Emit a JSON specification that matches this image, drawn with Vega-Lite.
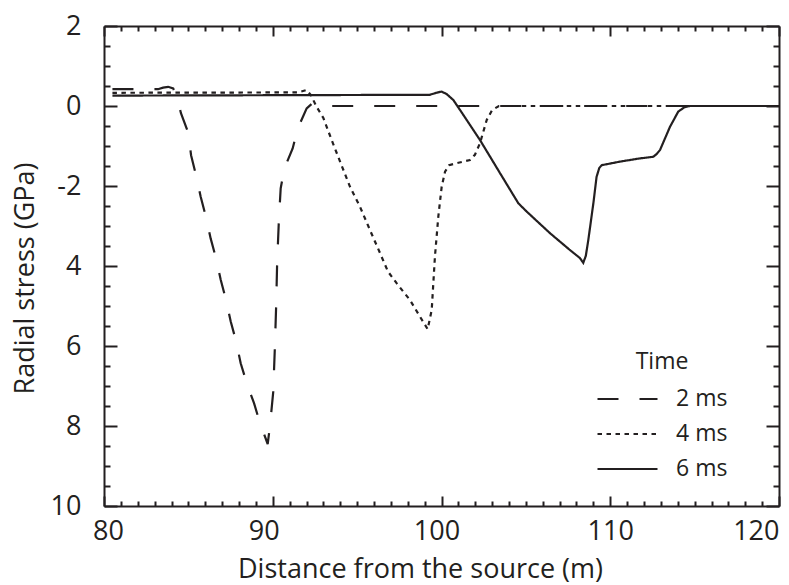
{
  "$schema": "https://vega.github.io/schema/vega-lite/v6.json",
  "width": 675,
  "height": 480,
  "autosize": {"type": "none"},
  "padding": {"left": 104, "top": 26, "right": 10, "bottom": 79},
  "background": "white",
  "config": {
    "view": {"stroke": null},
    "font": "Open Sans",
    "axis": {
      "grid": false,
      "domainWidth": 2,
      "domainColor": "#231f20",
      "tickColor": "#231f20",
      "tickWidth": 2,
      "labelColor": "#231f20",
      "titleColor": "#231f20",
      "labelFont": "Open Sans",
      "titleFont": "Open Sans",
      "labelFontSize": 27,
      "titleFontSize": 27,
      "titleFontWeight": "normal",
      "labelOverlap": false,
      "labelFlush": false
    }
  },
  "data": {
    "values": [
      {"t": "2 ms", "x": 80.5, "y": 0.42},
      {"t": "2 ms", "x": 83.2, "y": 0.42},
      {"t": "2 ms", "x": 83.5, "y": 0.46},
      {"t": "2 ms", "x": 83.8, "y": 0.48},
      {"t": "2 ms", "x": 84.1, "y": 0.44},
      {"t": "2 ms", "x": 84.35, "y": 0.2},
      {"t": "2 ms", "x": 84.56, "y": -0.18},
      {"t": "2 ms", "x": 85.0, "y": -0.68},
      {"t": "2 ms", "x": 85.16, "y": -1.23},
      {"t": "2 ms", "x": 85.45, "y": -1.73},
      {"t": "2 ms", "x": 85.73, "y": -2.27},
      {"t": "2 ms", "x": 86.04, "y": -2.77},
      {"t": "2 ms", "x": 86.32, "y": -3.31},
      {"t": "2 ms", "x": 86.64, "y": -3.81},
      {"t": "2 ms", "x": 86.92, "y": -4.35},
      {"t": "2 ms", "x": 87.23, "y": -4.85},
      {"t": "2 ms", "x": 87.51, "y": -5.39},
      {"t": "2 ms", "x": 87.82, "y": -5.87},
      {"t": "2 ms", "x": 88.1, "y": -6.43},
      {"t": "2 ms", "x": 88.46, "y": -6.93},
      {"t": "2 ms", "x": 88.89, "y": -7.43},
      {"t": "2 ms", "x": 89.24, "y": -7.92},
      {"t": "2 ms", "x": 89.7, "y": -8.45},
      {"t": "2 ms", "x": 89.84, "y": -7.98},
      {"t": "2 ms", "x": 90.03, "y": -7.14},
      {"t": "2 ms", "x": 90.12, "y": -6.1},
      {"t": "2 ms", "x": 90.2, "y": -5.02},
      {"t": "2 ms", "x": 90.26, "y": -3.93},
      {"t": "2 ms", "x": 90.36, "y": -2.89},
      {"t": "2 ms", "x": 90.47, "y": -2.06},
      {"t": "2 ms", "x": 90.69, "y": -1.56},
      {"t": "2 ms", "x": 91.18, "y": -1.06},
      {"t": "2 ms", "x": 91.48, "y": -0.56},
      {"t": "2 ms", "x": 92.01, "y": -0.06},
      {"t": "2 ms", "x": 92.3, "y": 0.05},
      {"t": "2 ms", "x": 92.6, "y": 0.02},
      {"t": "2 ms", "x": 93.0, "y": 0},
      {"t": "2 ms", "x": 120, "y": 0},
      {"t": "4 ms", "x": 80.5, "y": 0.33},
      {"t": "4 ms", "x": 91.5, "y": 0.34},
      {"t": "4 ms", "x": 92.0, "y": 0.4},
      {"t": "4 ms", "x": 92.25, "y": 0.28},
      {"t": "4 ms", "x": 92.6, "y": -0.02},
      {"t": "4 ms", "x": 93.0, "y": -0.3},
      {"t": "4 ms", "x": 93.49, "y": -0.85},
      {"t": "4 ms", "x": 93.99, "y": -1.39},
      {"t": "4 ms", "x": 94.58, "y": -2.02},
      {"t": "4 ms", "x": 95.17, "y": -2.52},
      {"t": "4 ms", "x": 95.76, "y": -3.1},
      {"t": "4 ms", "x": 96.36, "y": -3.68},
      {"t": "4 ms", "x": 96.83, "y": -4.14},
      {"t": "4 ms", "x": 97.34, "y": -4.43},
      {"t": "4 ms", "x": 98.13, "y": -4.85},
      {"t": "4 ms", "x": 98.73, "y": -5.27},
      {"t": "4 ms", "x": 99.18, "y": -5.58},
      {"t": "4 ms", "x": 99.42, "y": -5.1},
      {"t": "4 ms", "x": 99.61, "y": -3.77},
      {"t": "4 ms", "x": 99.81, "y": -2.77},
      {"t": "4 ms", "x": 100.01, "y": -2.02},
      {"t": "4 ms", "x": 100.21, "y": -1.64},
      {"t": "4 ms", "x": 100.45, "y": -1.48},
      {"t": "4 ms", "x": 101.0, "y": -1.42},
      {"t": "4 ms", "x": 101.69, "y": -1.35},
      {"t": "4 ms", "x": 101.98, "y": -1.22},
      {"t": "4 ms", "x": 102.28, "y": -0.93},
      {"t": "4 ms", "x": 102.68, "y": -0.35},
      {"t": "4 ms", "x": 103.0, "y": -0.1},
      {"t": "4 ms", "x": 103.4, "y": 0},
      {"t": "4 ms", "x": 120, "y": 0},
      {"t": "6 ms", "x": 80.5, "y": 0.26},
      {"t": "6 ms", "x": 90.0, "y": 0.27},
      {"t": "6 ms", "x": 99.3, "y": 0.28},
      {"t": "6 ms", "x": 99.7, "y": 0.33},
      {"t": "6 ms", "x": 100.0, "y": 0.36},
      {"t": "6 ms", "x": 100.3, "y": 0.3},
      {"t": "6 ms", "x": 100.7, "y": 0.15},
      {"t": "6 ms", "x": 101.1, "y": -0.1},
      {"t": "6 ms", "x": 102.28, "y": -0.85},
      {"t": "6 ms", "x": 103.47, "y": -1.68},
      {"t": "6 ms", "x": 104.55, "y": -2.43},
      {"t": "6 ms", "x": 105.05, "y": -2.64},
      {"t": "6 ms", "x": 106.43, "y": -3.18},
      {"t": "6 ms", "x": 107.61, "y": -3.6},
      {"t": "6 ms", "x": 108.2, "y": -3.8},
      {"t": "6 ms", "x": 108.4, "y": -3.92},
      {"t": "6 ms", "x": 108.55, "y": -3.75},
      {"t": "6 ms", "x": 108.7, "y": -3.35},
      {"t": "6 ms", "x": 109.0, "y": -2.43},
      {"t": "6 ms", "x": 109.19, "y": -1.77},
      {"t": "6 ms", "x": 109.35, "y": -1.55},
      {"t": "6 ms", "x": 109.49, "y": -1.48},
      {"t": "6 ms", "x": 110.58, "y": -1.39},
      {"t": "6 ms", "x": 111.76, "y": -1.31},
      {"t": "6 ms", "x": 112.55, "y": -1.27},
      {"t": "6 ms", "x": 112.75, "y": -1.2},
      {"t": "6 ms", "x": 112.95, "y": -1.1},
      {"t": "6 ms", "x": 113.54, "y": -0.52},
      {"t": "6 ms", "x": 114.03, "y": -0.14},
      {"t": "6 ms", "x": 114.4, "y": -0.03},
      {"t": "6 ms", "x": 114.73, "y": 0},
      {"t": "6 ms", "x": 120, "y": 0}
    ]
  },
  "layer": [
    {
      "mark": {"type": "line", "color": "#231f20", "strokeWidth": 2.2},
      "encoding": {
        "x": {
          "field": "x",
          "type": "quantitative",
          "scale": {"domain": [80, 120], "nice": false, "zero": false},
          "axis": {
            "orient": "bottom",
            "values": [80,81,82,83,84,85,86,87,88,89,90,91,92,93,94,95,96,97,98,99,100,101,102,103,104,105,106,107,108,109,110,111,112,113,114,115,116,117,118,119,120],
            "labelExpr": "datum.value % 10 === 0 ? '' + datum.value : ''",
            "tickSize": {"condition": {"test": "datum.value % 10 === 0", "value": -10}, "value": -5},
            "labelAlign": {"condition": {"test": "datum.value === 120", "value": "right"}, "value": "center"},
            "labelOffset": {"condition": [{"test": "datum.value === 80", "value": 4}, {"test": "datum.value === 90", "value": -9}, {"test": "datum.value === 100", "value": -5}], "value": 0},
            "labelPadding": 22,
            "title": "Distance from the source (m)",
            "titleX": 316,
            "titleY": 71,
            "titleAlign": "center",
            "titleBaseline": "alphabetic"
          }
        },
        "y": {
          "field": "y",
          "type": "quantitative",
          "scale": {"domain": [-10, 2], "nice": false, "zero": false},
          "axis": {
            "orient": "left",
            "values": [-10,-9.5,-9,-8.5,-8,-7.5,-7,-6.5,-6,-5.5,-5,-4.5,-4,-3.5,-3,-2.5,-2,-1.5,-1,-0.5,0,0.5,1,1.5,2],
            "labelExpr": "datum.value % 2 !== 0 ? '' : (datum.value < -2 ? '' + (-datum.value) : '' + datum.value)",
            "tickSize": {"condition": {"test": "datum.value % 2 === 0", "value": -13}, "value": -6},
            "labelPadding": 36,
            "title": "Radial stress (GPa)",
            "titleAngle": -90,
            "titleX": -71,
            "titleY": 252,
            "titleAlign": "center",
            "titleBaseline": "alphabetic"
          }
        },
        "strokeDash": {
          "field": "t",
          "type": "nominal",
          "scale": {"domain": ["2 ms", "4 ms", "6 ms"], "range": [[21, 21], [4.5, 4.5], [1, 0]]},
          "legend": {
            "title": "Time",
            "orient": "none",
            "legendX": 492,
            "legendY": 325,
            "padding": 0,
            "symbolType": "stroke",
            "symbolSize": 3600,
            "symbolStrokeWidth": 2.2,
            "symbolStrokeColor": "#231f20",
            "clipHeight": 22,
            "labelFont": "Open Sans",
            "labelFontSize": 23,
            "labelColor": "#231f20",
            "labelOffset": 17,
            "labelExpr": "datum.label + '   '",
            "titleFont": "Open Sans",
            "titleFontSize": 23,
            "titleFontWeight": "normal",
            "titleColor": "#231f20",
            "titleAnchor": "middle",
            "titlePadding": 14,
            "rowPadding": 12
          }
        }
      }
    },
    {
      "mark": {"type": "line", "opacity": 0},
      "encoding": {
        "detail": {"field": "t", "type": "nominal"},
        "x": {
          "field": "x",
          "type": "quantitative",
          "axis": {
            "orient": "top",
            "values": [80,81,82,83,84,85,86,87,88,89,90,91,92,93,94,95,96,97,98,99,100,101,102,103,104,105,106,107,108,109,110,111,112,113,114,115,116,117,118,119,120],
            "labels": false,
            "title": null,
            "tickSize": {"condition": {"test": "datum.value % 10 === 0", "value": -10}, "value": -5}
          }
        },
        "y": {
          "field": "y",
          "type": "quantitative",
          "axis": {
            "orient": "right",
            "values": [-10,-9.5,-9,-8.5,-8,-7.5,-7,-6.5,-6,-5.5,-5,-4.5,-4,-3.5,-3,-2.5,-2,-1.5,-1,-0.5,0,0.5,1,1.5,2],
            "labels": false,
            "title": null,
            "tickSize": {"condition": {"test": "datum.value % 2 === 0", "value": -13}, "value": -6}
          }
        }
      }
    }
  ],
  "resolve": {"axis": {"x": "independent", "y": "independent"}}
}
